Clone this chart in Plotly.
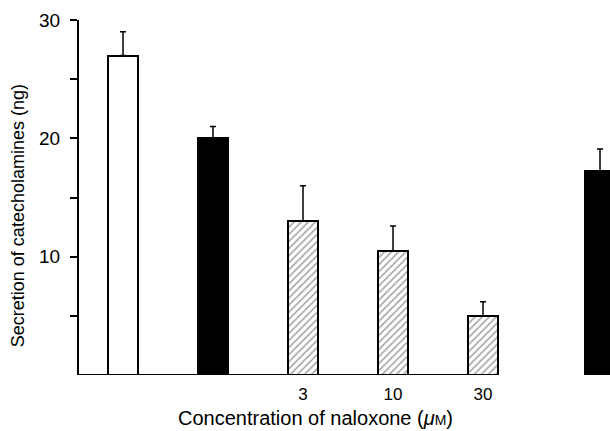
import plotly.graph_objects as go

# Catecholamine secretion (ng), mean and upper error
conditions = ["control", "stimulated", "naloxone 3", "naloxone 10", "naloxone 30", "washout"]
secretion = [27.0, 20.0, 13.0, 10.5, 5.0, 17.2]
error_up = [2.0, 1.0, 3.0, 2.1, 1.2, 1.9]
naloxone_ticks = ["3", "10", "30"]
y_ticks = [5, 10, 15, 20, 25, 30]
y_tick_text = ["", "10", "", "20", "", "30"]

# styling per bar
fills = ["white", "black", "white", "white", "white", "black"]
patterns = ["", "", "/", "/", "/", ""]

# horizontal slots for the bars (last bar stands apart from the series)
slots = [0, 1, 2, 3, 4, 5.3]
bar_w = 0.333
x_lo, x_hi = -0.489, 5.411

FONT = "Liberation Sans, Arial, sans-serif"

fig = go.Figure()
fig.add_trace(go.Bar(
    x=slots,
    y=secretion,
    width=bar_w,
    marker=dict(
        color=fills,
        line=dict(color="black", width=2),
        pattern=dict(shape=patterns, fgcolor="black", bgcolor="white",
                     size=5, solidity=0.3),
    ),
    error_y=dict(type="data", symmetric=False, array=error_up,
                 arrayminus=[0] * len(error_up),
                 color="black", thickness=1.5, width=3),
    showlegend=False,
    hoverinfo="skip",
))

# baseline under the control and naloxone series only
fig.add_shape(type="line", xref="x", yref="y",
              x0=x_lo, x1=4 + bar_w / 2, y0=0, y1=0,
              line=dict(color="black", width=2))

# axis titles
fig.add_annotation(
    text="Concentration of naloxone (<i>μ</i><span style='font-size:14px'>M</span>)",
    xref="paper", yref="paper", x=0.446, y=0, xanchor="center", yanchor="middle",
    yshift=-43, showarrow=False, font=dict(size=20),
)
fig.add_annotation(
    text="Secretion of catecholamines (ng)",
    xref="paper", yref="paper", x=-0.115, y=0.45, xanchor="center", yanchor="middle",
    textangle=-90, showarrow=False, font=dict(size=18),
)

fig.update_layout(
    width=610, height=431,
    margin=dict(l=79, r=0, t=20, b=56),
    paper_bgcolor="white", plot_bgcolor="white",
    bargap=0,
    font=dict(family=FONT, color="black"),
    xaxis=dict(
        range=[x_lo, x_hi],
        showline=False, showgrid=False, zeroline=False,
        tickmode="array", tickvals=slots[2:5], ticktext=naloxone_ticks,
        ticks="", tickfont=dict(size=17), ticklabelstandoff=7,
    ),
    yaxis=dict(
        range=[0, 30],
        showline=True, linecolor="black", linewidth=2,
        showgrid=False, zeroline=False,
        tickmode="array", tickvals=y_ticks, ticktext=y_tick_text,
        ticks="outside", ticklen=7, tickwidth=2, tickcolor="black",
        tickfont=dict(size=19), ticklabelstandoff=6,
    ),
)

fig.write_html("out.html")
